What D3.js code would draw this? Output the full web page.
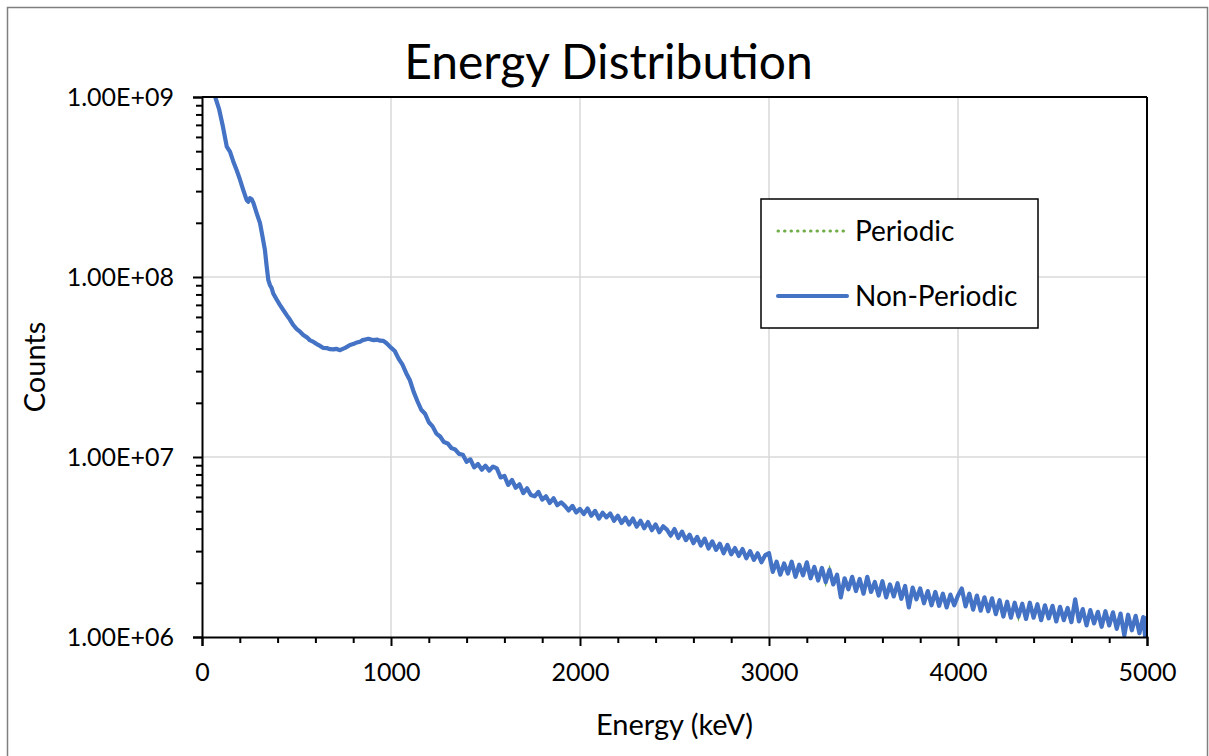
<!DOCTYPE html>
<html>
<head>
<meta charset="utf-8">
<script src="https://cdn.jsdelivr.net/npm/d3@7"></script>
<style>
  html, body { margin: 0; padding: 0; background: #fff; }
  svg { display: block; }
  text { font-family: Lato, "Open Sans", sans-serif; fill: #000; }
</style>
</head>
<body>
<svg id="chart" width="1209" height="756"></svg>
<script>
// ---------- data ----------
const chartTitle = "Energy Distribution";
const xAxisTitle = "Energy (keV)";
const yAxisTitle = "Counts";
const seriesNames = ["Periodic", "Non-Periodic"];
const xTickValues = [0, 1000, 2000, 3000, 4000, 5000];
const xTickLabels = ["0", "1000", "2000", "3000", "4000", "5000"];
const xMinorTicks = [200,400,600,800,1200,1400,1600,1800,2200,2400,2600,2800,3200,3400,3600,3800,4200,4400,4600,4800];
const yTickValues = [1e6, 1e7, 1e8, 1e9];
const yTickLabels = ["1.00E+06", "1.00E+07", "1.00E+08", "1.00E+09"];

// [energy keV, counts]
const nonPeriodic = [
  [70,1.00e9],[90,8.6e8],[110,6.9e8],[131,5.3e8],[148,4.97e8],[165,4.4e8],[183,3.93e8],[200,3.5e8],
  [218,3.05e8],[236,2.68e8],[245,2.62e8],[254,2.74e8],[263,2.70e8],[272,2.58e8],[290,2.25e8],[307,1.99e8],
  [320,1.68e8],[333,1.41e8],[342,1.15e8],[351,9.6e7],[360,9.0e7],[369,8.65e7],[377,8.1e7],[395,7.5e7],
  [412,7.0e7],[430,6.56e7],[450,6.1e7],[465,5.8e7],[483,5.41e7],[500,5.15e7],[520,4.95e7],[536,4.76e7],
  [555,4.62e7],[570,4.46e7],[590,4.36e7],[607,4.24e7],[625,4.14e7],[640,4.04e7],[660,4.03e7],[677,3.97e7],
  [695,3.96e7],[710,3.99e7],[730,3.92e7],[745,3.99e7],[760,4.05e7],[783,4.19e7],[800,4.24e7],[820,4.33e7],
  [836,4.37e7],[850,4.46e7],[865,4.50e7],[880,4.54e7],[895,4.49e7],[910,4.46e7],[925,4.49e7],[942,4.43e7],
  [960,4.42e7],[975,4.30e7],[986,4.19e7],[1000,4.05e7],
  [1020,3.88e7],[1040,3.52e7],[1060,3.27e7],[1080,2.93e7],[1100,2.67e7],[1120,2.30e7],[1140,2.04e7],[1160,1.83e7],
  [1180,1.74e7],[1200,1.56e7],[1220,1.48e7],[1240,1.35e7],[1260,1.30e7],[1280,1.21e7],[1300,1.19e7],[1320,1.12e7],
  [1340,1.10e7],[1360,1.04e7],[1380,1.03e7],[1400,9.4e6],[1420,9.7e6],[1440,8.75e6],[1460,9.15e6],[1480,8.5e6],
  [1500,8.95e6],[1520,8.4e6],[1540,8.85e6],[1560,8.65e6],[1580,7.7e6],[1600,7.85e6],[1620,7.0e6],[1640,7.45e6],
  [1660,6.75e6],[1680,7.05e6],[1700,6.3e6],[1720,6.7e6],[1740,6.15e6],[1760,6.05e6],[1780,6.4e6],[1800,5.8e6],
  [1820,6.05e6],[1840,5.55e6],[1860,5.9e6],[1880,5.4e6],[1900,5.6e6],[1920,5.35e6],[1940,5.05e6],[1960,5.35e6],
  [1980,4.92e6],[2000,5.15e6],[2020,4.82e6],[2040,5.18e6],[2060,4.72e6],[2080,5.02e6],[2100,4.55e6],[2120,4.9e6],
  [2140,4.62e6],[2160,4.85e6],[2180,4.42e6],[2200,4.72e6],[2220,4.3e6],[2240,4.6e6],[2260,4.22e6],[2280,4.55e6],
  [2300,4.1e6],[2320,4.42e6],[2340,4.02e6],[2360,4.35e6],[2380,3.92e6],[2400,4.22e6],[2420,3.82e6],[2440,4.12e6],
  [2460,3.95e6],[2480,3.66e6],[2500,3.98e6],[2520,3.55e6],[2540,3.85e6],[2560,3.45e6],[2580,3.70e6],[2600,3.32e6],
  [2620,3.60e6],[2640,3.22e6],[2660,3.52e6],[2680,3.10e6],[2700,3.40e6],[2720,3.05e6],[2740,3.30e6],[2760,2.92e6],
  [2780,3.25e6],[2800,2.88e6],[2820,3.12e6],[2840,2.82e6],[2860,3.08e6],[2880,2.74e6],[2900,3.0e6],[2920,2.68e6],
  [2940,2.92e6],[2960,2.60e6],[2980,2.85e6],[3000,2.92e6],[3020,2.30e6],[3040,2.62e6],[3060,2.22e6],[3080,2.56e6],
  [3100,2.25e6],[3120,2.62e6],[3140,2.16e6],[3160,2.52e6],[3180,2.20e6],[3200,2.60e6],[3220,2.12e6],[3240,2.45e6],
  [3260,2.06e6],[3280,2.42e6],[3300,2.02e6],[3320,2.36e6],[3340,1.96e6],[3360,2.22e6],[3380,1.66e6],[3400,2.12e6],
  [3420,1.84e6],[3440,2.16e6],[3460,1.80e6],[3480,2.10e6],[3500,1.74e6],[3520,2.16e6],[3540,1.78e6],[3560,2.02e6],
  [3580,1.70e6],[3600,2.04e6],[3620,1.66e6],[3640,1.96e6],[3660,1.68e6],[3680,1.99e6],[3700,1.63e6],[3720,1.92e6],
  [3740,1.46e6],[3760,1.88e6],[3780,1.62e6],[3800,1.86e6],[3820,1.54e6],[3840,1.80e6],[3860,1.50e6],[3880,1.78e6],
  [3900,1.49e6],[3920,1.74e6],[3940,1.46e6],[3960,1.72e6],[3980,1.50e6],[4000,1.70e6],[4020,1.86e6],[4040,1.48e6],
  [4060,1.74e6],[4080,1.42e6],[4100,1.70e6],[4120,1.40e6],[4140,1.66e6],[4160,1.39e6],[4180,1.64e6],[4200,1.34e6],
  [4220,1.60e6],[4240,1.30e6],[4260,1.57e6],[4280,1.28e6],[4300,1.55e6],[4320,1.30e6],[4340,1.53e6],[4360,1.26e6],
  [4380,1.55e6],[4400,1.28e6],[4420,1.52e6],[4440,1.24e6],[4460,1.50e6],[4480,1.27e6],[4500,1.49e6],[4520,1.22e6],
  [4540,1.47e6],[4560,1.24e6],[4580,1.45e6],[4600,1.21e6],[4620,1.62e6],[4640,1.22e6],[4660,1.43e6],[4680,1.16e6],
  [4700,1.41e6],[4720,1.19e6],[4740,1.38e6],[4760,1.14e6],[4780,1.39e6],[4800,1.16e6],[4820,1.37e6],[4840,1.11e6],
  [4860,1.35e6],[4880,1.02e6],[4900,1.33e6],[4920,1.09e6],[4940,1.31e6],[4960,1.05e6],[4980,1.29e6],[4990,1.01e6],
  [5000,1.28e6]
];
// The periodic series lies exactly under the non-periodic one in the reference.
const periodic = nonPeriodic;

// ---------- layout ----------
const W = 1209, H = 756;
const plot = { left: 202, right: 1147, top: 97, bottom: 637 };
const colors = { periodic: "#70AD47", nonPeriodic: "#4472C4", grid: "#D9D9D9", axis: "#000" };

const svg = d3.select("#chart");

// outer chart border
svg.append("rect").attr("x", 7.5).attr("y", 7.5).attr("width", W - 9).attr("height", H + 20)
  .attr("fill", "#fff").attr("stroke", "#7F7F7F").attr("stroke-width", 1.5);

const x = d3.scaleLinear().domain([0, 5000]).range([plot.left, plot.right]);
const y = d3.scaleLog().domain([1e6, 1e9]).range([plot.bottom, plot.top]);

// gridlines
const grid = svg.append("g");
grid.selectAll("line.v").data(xTickValues.slice(1, -1)).join("line")
  .attr("x1", d => x(d)).attr("x2", d => x(d)).attr("y1", plot.top).attr("y2", plot.bottom)
  .attr("stroke", colors.grid).attr("stroke-width", 1.5);
grid.selectAll("line.h").data(yTickValues.slice(1, -1)).join("line")
  .attr("y1", d => y(d)).attr("y2", d => y(d)).attr("x1", plot.left).attr("x2", plot.right)
  .attr("stroke", colors.grid).attr("stroke-width", 1.5);

// clip
svg.append("clipPath").attr("id", "clip").append("rect")
  .attr("x", plot.left).attr("y", plot.top).attr("width", plot.right - plot.left).attr("height", plot.bottom - plot.top);

const line = d3.line().x(d => x(d[0])).y(d => y(d[1]));
const lines = svg.append("g").attr("clip-path", "url(#clip)");
lines.append("path").datum(periodic).attr("d", line).attr("fill", "none")
  .attr("stroke", colors.periodic).attr("stroke-width", 3).attr("stroke-dasharray", "0.5,6")
  .attr("stroke-linecap", "round");
lines.append("path").datum(nonPeriodic).attr("d", line).attr("fill", "none")
  .attr("stroke", colors.nonPeriodic).attr("stroke-width", 4.2).attr("stroke-linejoin", "round")
  .attr("stroke-linecap", "round");

// plot frame (top & right)
svg.append("line").attr("x1", plot.left).attr("x2", plot.right).attr("y1", plot.top).attr("y2", plot.top)
  .attr("stroke", colors.axis).attr("stroke-width", 2);
svg.append("line").attr("x1", plot.right).attr("x2", plot.right).attr("y1", plot.top).attr("y2", plot.bottom)
  .attr("stroke", colors.axis).attr("stroke-width", 2);

// y minor ticks (log 2..9 in each decade)
const yMinor = [];
[1e6, 1e7, 1e8].forEach(dec => [2,3,4,5,6,7,8,9].forEach(k => yMinor.push(dec * k)));
const yMinorAxis = d3.axisLeft(y).tickValues(yMinor).tickSize(6).tickFormat("");
svg.append("g").attr("transform", `translate(${plot.left},0)`).call(yMinorAxis)
  .call(g => g.select(".domain").remove())
  .call(g => g.selectAll("line").attr("stroke", colors.axis).attr("stroke-width", 2));

// y major axis
const yAxis = d3.axisLeft(y).tickValues(yTickValues).tickSize(9).tickPadding(19)
  .tickFormat((d, i) => yTickLabels[i]);
svg.append("g").attr("transform", `translate(${plot.left},0)`).call(yAxis)
  .call(g => g.select(".domain").attr("stroke", colors.axis).attr("stroke-width", 2))
  .call(g => g.selectAll("line").attr("stroke", colors.axis).attr("stroke-width", 2))
  .call(g => g.selectAll("text").attr("font-family", "Lato").attr("font-size", 25).attr("fill", "#000"));

// x minor ticks
const xMinorAxis = d3.axisBottom(x).tickValues(xMinorTicks).tickSize(6).tickFormat("");
svg.append("g").attr("transform", `translate(0,${plot.bottom})`).call(xMinorAxis)
  .call(g => g.select(".domain").remove())
  .call(g => g.selectAll("line").attr("stroke", colors.axis).attr("stroke-width", 2));

// x major axis
const xAxis = d3.axisBottom(x).tickValues(xTickValues).tickSize(9).tickPadding(17)
  .tickFormat((d, i) => xTickLabels[i]);
svg.append("g").attr("transform", `translate(0,${plot.bottom})`).call(xAxis)
  .call(g => g.select(".domain").attr("stroke", colors.axis).attr("stroke-width", 2))
  .call(g => g.selectAll("line").attr("stroke", colors.axis).attr("stroke-width", 2))
  .call(g => g.selectAll("text").attr("font-family", "Lato").attr("font-size", 25).attr("fill", "#000"));

// titles
svg.append("text").attr("x", 608.5).attr("y", 79).attr("text-anchor", "middle")
  .attr("font-size", 48).text(chartTitle);
svg.append("text").attr("x", x(2500)).attr("y", 735).attr("text-anchor", "middle")
  .attr("font-size", 29).text(xAxisTitle);
svg.append("text").attr("transform", `translate(45,${(plot.top + plot.bottom) / 2}) rotate(-90)`)
  .attr("text-anchor", "middle").attr("font-size", 29).text(yAxisTitle);

// legend
const lg = svg.append("g");
lg.append("rect").attr("x", 761).attr("y", 199).attr("width", 277).attr("height", 129)
  .attr("fill", "#fff").attr("stroke", "#000").attr("stroke-width", 1.5);
const legendRows = [
  { name: seriesNames[0], y: 231, color: colors.periodic, dash: "0.5,6", w: 3 },
  { name: seriesNames[1], y: 296, color: colors.nonPeriodic, dash: null, w: 4 }
];
legendRows.forEach(r => {
  lg.append("line").attr("x1", 778).attr("x2", 847).attr("y1", r.y).attr("y2", r.y)
    .attr("stroke", r.color).attr("stroke-width", r.w).attr("stroke-linecap", "round")
    .attr("stroke-dasharray", r.dash);
  lg.append("text").attr("x", 855).attr("y", r.y).attr("dy", "0.36em")
    .attr("font-size", 28).text(r.name);
});
</script>
</body>
</html>
